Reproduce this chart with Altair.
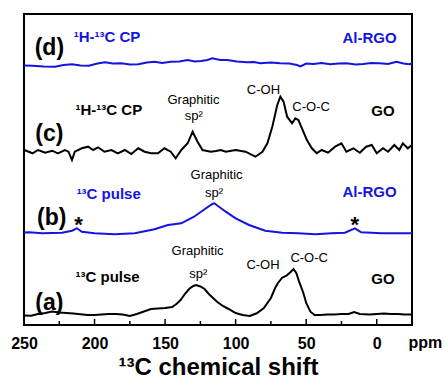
import altair as alt
import pandas as pd

BLUE = "#1414e0"
BLACK = "#000000"
FONT = "Liberation Sans"

# ---- spectra (ppm, stacked intensity) ----
ppm_a = [250, 245, 240, 235, 230, 225, 220, 215, 210, 205, 200, 195, 190, 185, 180, 175, 170,
         165, 160, 155, 150, 145, 142, 139, 136, 133, 130, 128, 125, 122, 119, 116, 113, 109,
         105, 100, 95, 90, 85, 80, 75, 72, 70, 67, 64, 61, 59, 57, 55, 52, 50, 47, 44, 40, 35,
         30, 25, 20, 16, 12, 5, 0, -5, -10, -15, -20, -25]
val_a = [8.5, 8.3, 10, 11, 12.5, 11.5, 11, 10.5, 9.7, 9, 9, 9.5, 10, 10, 9.5, 8, 10,
         12.5, 15, 15.5, 16, 17, 20, 24, 30, 35, 38, 39, 37.5, 35, 30, 26, 22, 18,
         15, 11, 9, 8, 10.7, 16, 26, 36, 41, 46.3, 48.3, 52, 55, 51, 42.3, 31, 21, 12.3, 9, 9, 9.5,
         9.5, 10, 10, 12, 10, 9.5, 10, 10.5, 10, 10, 9.5, 9.5]

ppm_b = [250, 246.5, 237, 223, 216, 212.5, 209, 200, 186, 171.5, 157.5, 148, 138.5, 129.5, 121,
         116.5, 115, 113, 107, 100, 90.5, 79, 67, 55.5, 43.5, 32, 22.5, 15.5, 11, -3.5, -25]
val_b = [91.5, 91.7, 90.7, 91.3, 93.3, 95.7, 92.3, 90.7, 89.7, 90.7, 94.7, 99, 100.7, 107.3, 115.7,
         120, 120.7, 118.5, 112.3, 105.7, 99, 93.3, 91.3, 90.7, 89.7, 90.7, 91.3, 95.7, 91.7, 90.7, 90.7]

ppm_c = [250, 248, 244, 240, 235, 230, 226, 221, 218.5, 216, 214, 209, 204.5, 201, 197.5, 193,
         188, 183.5, 178.5, 174, 169, 164.5, 160, 155, 150.5, 146, 142.5, 138.5, 134, 130.5,
         127, 123.5, 117.5, 114, 110.5, 107, 100, 93, 86, 81, 77.5, 74, 70.5, 68.3, 66, 63.5,
         60, 57.7, 55.5, 53, 49.5, 46, 42.5, 39, 34.5, 29.5, 25, 21.5, 16.5, 12, 7.5, 3.5, 0,
         -4.5, -8, -12.5, -16, -18.5, -22, -25]
val_c = [174, 173, 170.7, 174, 171.3, 173.3, 170.7, 174, 172.3, 164, 172.3, 175.7, 177.3, 174,
         176.7, 172.3, 174, 170.7, 174, 170, 175.7, 172.3, 170.7, 170.7, 175.7, 172.3, 165.7, 174,
         180.7, 192.3, 182.3, 174, 172.3, 173, 174, 172.3, 174, 172.3, 167.3, 172.3, 180.7, 197.3,
         219, 227.3, 222.3, 207.3, 200.7, 205.7, 204, 195.7, 184, 175.7, 170.7, 174, 171.3, 177.3,
         180.7, 172.3, 175.7, 171.3, 177.3, 179, 170.7, 175.7, 172.3, 179, 174, 180.7, 175.7, 179]

ppm_d = [250, 244, 236, 228, 222, 216, 210, 204, 198, 192.5, 187, 181, 175, 169, 163, 157.5,
         152, 146, 140, 134, 129, 124.5, 120, 116.5, 111, 106, 99, 92, 87, 82.5, 75, 68.5, 62,
         56.5, 54, 50, 45, 39, 33, 27, 21.5, 15, 9.5, 4, -2, -8, -14, -19, -23, -25]
val_d = [258.5, 258.3, 257.5, 257.3, 259, 259.7, 258.5, 258.3, 260.5, 261.7, 260.5, 260.7, 259.5,
         259.7, 261.5, 262.3, 261, 262.3, 262.5, 264, 262.5, 263, 264, 265.7, 264, 264, 262.5,
         261.7, 262, 260.7, 261.5, 260.7, 260.5, 259, 257.5, 260.5, 260, 261, 259.7, 260.5, 260.7,
         259.5, 260, 261, 260.7, 260, 262.3, 260.5, 259.7, 260.5]

series = [("a", ppm_a, val_a, BLACK), ("b", ppm_b, val_b, BLUE),
          ("c", ppm_c, val_c, BLACK), ("d", ppm_d, val_d, BLUE)]
rows = []
for name, xs, ys, col in series:
    assert len(xs) == len(ys), name
    for i, (x, y) in enumerate(zip(xs, ys)):
        rows.append({"trace": name, "ppm": x, "val": y, "color": col, "idx": i})
spec_df = pd.DataFrame(rows)

# ---- tick marks (inward) ----
major_ticks = [250, 200, 150, 100, 50, 0]
minor_ticks = [225, 175, 125, 75, 25]
tick_df = pd.DataFrame(
    [{"ppm": t, "y0": -1, "y1": 5} for t in major_ticks] +
    [{"ppm": t, "y0": -1, "y1": 3} for t in minor_ticks])

# ---- annotations ----
labels = ["(d)", "(c)", "(b)", "(a)",
          "\u00b9H-\u00b9\u00b3C CP", "\u00b9H-\u00b9\u00b3C CP", "\u00b9\u00b3C pulse", "\u00b9\u00b3C pulse",
          "Al-RGO", "GO", "Al-RGO", "GO",
          "Graphitic", "sp\u00b2", "C-OH", "C-O-C",
          "Graphitic", "sp\u00b2",
          "Graphitic", "sp\u00b2", "C-OH", "C-O-C",
          "*", "*", "ppm"]
lab_ppm = [232, 232, 230.3, 232,
           214.8, 213.5, 212.7, 213.5,
           -14.1, -12.7, -14.1, -12.7,
           129.9, 129.6, 80.3, 46.5,
           113.5, 115.3,
           127, 126.4, 80.6, 47.9,
           211.3, 15.5, -22.5]
lab_val = [276, 190, 106, 21,
           287, 214, 130, 47.3,
           286.5, 213, 132.3, 45,
           224, 208, 234, 217.3,
           149, 130.7,
           73, 50, 59, 65.7,
           99, 99, -19]
lab_color = [BLACK, BLACK, BLACK, BLACK,
             BLUE, BLACK, BLUE, BLACK,
             BLUE, BLACK, BLUE, BLACK,
             BLACK, BLACK, BLACK, BLACK,
             BLACK, BLACK,
             BLACK, BLACK, BLACK, BLACK,
             BLACK, BLACK, BLACK]
lab_size = [23, 23, 23, 23,
            15, 15, 15, 15,
            15, 15, 15, 15,
            13, 13, 13, 13,
            13, 13,
            13, 13, 13, 13,
            22, 22, 16]
lab_style = ["bc", "bc", "bc", "bc",
             "bl", "bl", "bl", "bl",
             "br", "br", "br", "br",
             "nc", "nc", "nc", "nc",
             "nc", "nc",
             "nc", "nc", "nc", "nc",
             "bc", "bc", "bl"]
ann_df = pd.DataFrame({"label": labels, "ppm": lab_ppm, "val": lab_val,
                       "color": lab_color, "size": lab_size, "style": lab_style})

xscale = alt.Scale(domain=[250, -25], nice=False, zero=False)
yscale = alt.Scale(domain=[-1, 310], nice=False, zero=False)
xaxis = alt.Axis(values=major_ticks, format="d", ticks=False, domain=False, grid=False,
                 labelFont=FONT, labelFontSize=16, labelFontWeight="bold", labelColor="black",
                 labelPadding=10, labelFlush=False,
                 title="\u00b9\u00b3C chemical shift", titleFont=FONT, titleFontSize=24,
                 titleFontWeight="bold", titleColor="black", titlePadding=4)
X = alt.X("ppm:Q", scale=xscale, axis=xaxis)
Y = alt.Y("val:Q", scale=yscale, axis=None)

lines = alt.Chart(spec_df).mark_line(strokeWidth=2, interpolate="linear").encode(
    x=X, y=Y, detail="trace:N", order="idx:Q",
    color=alt.Color("color:N", scale=None))

ticks = alt.Chart(tick_df).mark_rule(color="black", strokeWidth=1.5).encode(
    x=X, y=alt.Y("y0:Q", scale=yscale, axis=None), y2="y1:Q")


def text_layer(style, weight, align):
    return alt.Chart(ann_df).transform_filter(
        alt.datum.style == style
    ).mark_text(font=FONT, fontWeight=weight, align=align, baseline="middle").encode(
        x=X, y=Y, text="label:N",
        color=alt.Color("color:N", scale=None),
        size=alt.Size("size:Q", scale=None))


chart = alt.layer(
    lines, ticks,
    text_layer("bc", "bold", "center"),
    text_layer("bl", "bold", "left"),
    text_layer("br", "bold", "right"),
    text_layer("nc", "normal", "center"),
).properties(
    width=388, height=311,
    autosize=alt.AutoSizeParams(type="none"),
    padding={"left": 24, "top": 14, "right": 34, "bottom": 56},
    background="white",
).configure_view(stroke="black", strokeWidth=2)

chart.save("out.html", embed_options={"renderer": "svg", "actions": False})
